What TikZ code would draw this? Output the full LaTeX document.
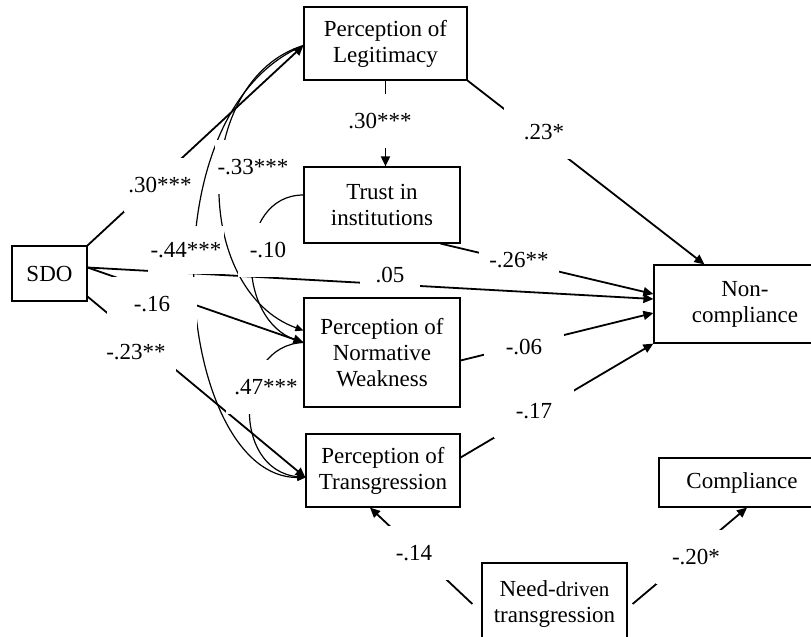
\documentclass[tikz,border=0pt]{standalone}
\usepackage{fontspec}
\setmainfont{Liberation Serif}
\usetikzlibrary{
    arrows.meta,
    positioning,
    calc,
    backgrounds,
}

\begin{document}
\begin{tikzpicture}[
    x=0.5pt, y=-0.5pt,
    font=\fontsize{11.5}{13}\selectfont,
    var/.style={draw, rectangle, line width=0.6pt, align=center, text centered, inner sep=2pt},
    effect/.style={line width=0.9pt, -{Triangle[length=5pt, width=4.5pt]}},
    covar/.style={line width=0.6pt, -{Triangle[length=4pt, width=3.5pt]}},
    coef/.style={fill=white, inner sep=0pt, minimum width=40pt, minimum height=27pt}
]

\useasboundingbox (0,0) rectangle (811,637);
\clip (0,0) rectangle (811,637);

\node[var, minimum width=37.5pt, minimum height=27.5pt] (sdo) at (49.5,273.5) {SDO};
\node[var, minimum width=81.5pt, minimum height=36.5pt] (legitimacy) at (385.5,43.5) {Perception of\\Legitimacy};
\node[var, minimum width=78pt, minimum height=38pt] (trustInst) at (382,205) {Trust in\\institutions};
\node[var, minimum width=78pt, minimum height=54.5pt] (normWeak) at (382,352.5) {Perception of\\Normative\\Weakness};
\node[var, minimum width=77pt, minimum height=36.5pt] (transgression) at (383,470.5) {Perception of\\Transgression};
\node[var, minimum width=91pt, minimum height=39pt] (nonCompliance) at (745,304) {Non-\\compliance};
\node[var, minimum width=83pt, minimum height=24.5pt] (compliance) at (742,482.5) {Compliance};
\node[var, minimum width=72.5pt, minimum height=41pt] (needDriven) at (554.5,604)
    {Need-{\fontsize{10.5}{13}\selectfont driven}\\transgression};

\begin{scope}[on background layer]
\draw[effect] (sdo.north east) -- ([yshift=-1pt]legitimacy.west);
\draw[effect] (legitimacy.south) -- (legitimacy.south |- trustInst.north);
\draw[effect] (legitimacy.south east) -- ([xshift=25.5pt]nonCompliance.north west);
\draw[effect] ([xshift=-10pt]trustInst.south east) -- ([yshift=5pt]nonCompliance.west);
\draw[effect] ([yshift=3pt]sdo.east) -- ([yshift=2.5pt]nonCompliance.west);
\draw[effect] ([yshift=3pt]sdo.east) -- ([yshift=5pt]normWeak.west);
\draw[effect] ([yshift=2.5pt]sdo.south east) -- ([yshift=-3.5pt]transgression.west);
\draw[effect] ([yshift=-4pt]normWeak.east) -- ([yshift=-4.5pt]nonCompliance.west);
\draw[effect] ([yshift=6.5pt]transgression.east) -- (nonCompliance.south west);
\draw[effect] ([xshift=-4.5pt]needDriven.west) -- ([xshift=-6.5pt]transgression.south);
\draw[effect] ([xshift=2.5pt]needDriven.east) -- ([xshift=2.5pt]compliance.south);

\draw[covar] ([yshift=-1pt]legitimacy.west) .. controls (140,115) and (177,478) .. ([yshift=-3.5pt]transgression.west);
\draw[covar] ([yshift=-1pt]legitimacy.west) .. controls (192,80) and (192,290) .. ([yshift=11pt]normWeak.west);
\draw[covar] ([yshift=5pt]trustInst.west) .. controls (235,195) and (235,320) .. ([yshift=5pt]normWeak.west);
\draw[covar] ([yshift=5pt]normWeak.west) .. controls (235,345) and (230,470) .. ([yshift=-3.5pt]transgression.west);

\node[coef, minimum width=36pt] (cSdoLeg) at (160,185) {.30***};
\node[coef] (cLegTrust) at (380,121) {.30***};
\node[coef] (cLegNon) at (544,132) {.23*};
\node[coef, minimum width=38pt] (cLegNorm) at (253,167) {-.33***};
\node[coef, minimum width=38pt, minimum height=24pt] (cLegTransg) at (186,250) {-.44***};
\node[coef, minimum width=30pt] (cTrustNorm) at (268,250) {-.10};
\node[coef] (cTrustNon) at (519,260) {-.26**};
\node[coef, minimum width=30pt] (cSdoNon) at (390,275) {.05};
\node[coef, minimum width=45pt] (cSdoNorm) at (152,304) {-.16};
\node[coef] (cSdoTransg) at (136,352) {-.23**};
\node[coef] (cNormTransg) at (266,387) {.47***};
\node[coef] (cNormNon) at (524,347) {-.06};
\node[coef] (cTransgNon) at (534,411) {-.17};
\node[coef] (cNeedTransg) at (414,553) {-.14};
\node[coef] (cNeedComp) at (696,557) {-.20*};
\end{scope}

\end{tikzpicture}
\end{document}
